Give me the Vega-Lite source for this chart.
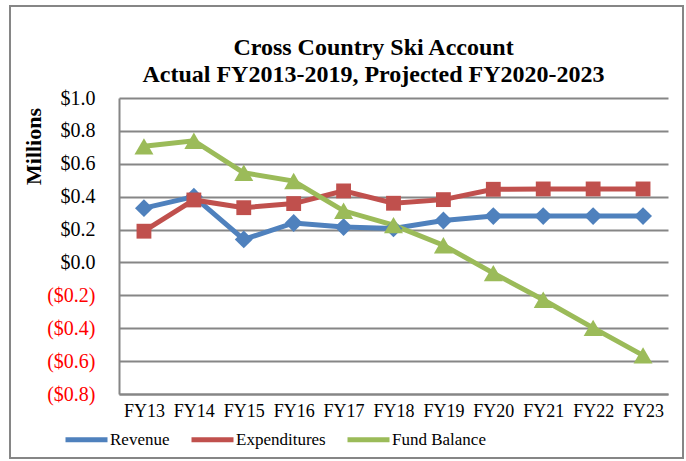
{
  "$schema": "https://vega.github.io/schema/vega-lite/v6.json",
  "width": 673,
  "height": 452,
  "autosize": {"type": "none"},
  "padding": {"left": 10, "top": 6, "right": 3, "bottom": 3},
  "background": "white",
  "title": {
    "text": ["Cross Country Ski Account", "Actual FY2013-2019, Projected FY2020-2023"],
    "font": "Liberation Serif",
    "fontSize": 24,
    "fontWeight": "bold",
    "color": "black",
    "anchor": "middle",
    "frame": "group",
    "baseline": "alphabetic",
    "lineHeight": 27,
    "offset": -48,
    "dx": 27,
    "dy": 52
  },
  "config": {
    "font": "Liberation Serif",
    "view": {"stroke": "#868686", "strokeWidth": 2},
    "legend": {
      "labelFont": "Liberation Serif",
      "labelFontSize": 17,
      "labelColor": "black",
      "symbolType": "stroke",
      "symbolSize": 1764,
      "symbolStrokeWidth": 5
    }
  },
  "data": {
    "values": [
      {"year": "FY13", "series": "Revenue", "value": 0.33},
      {"year": "FY14", "series": "Revenue", "value": 0.40},
      {"year": "FY15", "series": "Revenue", "value": 0.14},
      {"year": "FY16", "series": "Revenue", "value": 0.24},
      {"year": "FY17", "series": "Revenue", "value": 0.215},
      {"year": "FY18", "series": "Revenue", "value": 0.207},
      {"year": "FY19", "series": "Revenue", "value": 0.255},
      {"year": "FY20", "series": "Revenue", "value": 0.282},
      {"year": "FY21", "series": "Revenue", "value": 0.282},
      {"year": "FY22", "series": "Revenue", "value": 0.282},
      {"year": "FY23", "series": "Revenue", "value": 0.282},
      {"year": "FY13", "series": "Expenditures", "value": 0.19},
      {"year": "FY14", "series": "Expenditures", "value": 0.38},
      {"year": "FY15", "series": "Expenditures", "value": 0.333},
      {"year": "FY16", "series": "Expenditures", "value": 0.358},
      {"year": "FY17", "series": "Expenditures", "value": 0.435},
      {"year": "FY18", "series": "Expenditures", "value": 0.36},
      {"year": "FY19", "series": "Expenditures", "value": 0.382},
      {"year": "FY20", "series": "Expenditures", "value": 0.445},
      {"year": "FY21", "series": "Expenditures", "value": 0.447},
      {"year": "FY22", "series": "Expenditures", "value": 0.447},
      {"year": "FY23", "series": "Expenditures", "value": 0.447},
      {"year": "FY13", "series": "Fund Balance", "value": 0.706},
      {"year": "FY14", "series": "Fund Balance", "value": 0.74},
      {"year": "FY15", "series": "Fund Balance", "value": 0.545},
      {"year": "FY16", "series": "Fund Balance", "value": 0.495},
      {"year": "FY17", "series": "Fund Balance", "value": 0.314},
      {"year": "FY18", "series": "Fund Balance", "value": 0.227},
      {"year": "FY19", "series": "Fund Balance", "value": 0.105},
      {"year": "FY20", "series": "Fund Balance", "value": -0.065},
      {"year": "FY21", "series": "Fund Balance", "value": -0.227},
      {"year": "FY22", "series": "Fund Balance", "value": -0.398},
      {"year": "FY23", "series": "Fund Balance", "value": -0.565}
    ]
  },
  "encoding": {
    "x": {
      "field": "year",
      "type": "ordinal",
      "sort": ["FY13", "FY14", "FY15", "FY16", "FY17", "FY18", "FY19", "FY20", "FY21", "FY22", "FY23"],
      "scale": {"type": "point", "padding": 0.5, "range": [109, 658]},
      "axis": {
        "orient": "bottom",
        "offset": -64,
        "title": null,
        "labelAngle": 0,
        "labelFont": "Liberation Serif",
        "labelFontSize": 18,
        "labelColor": "black",
        "labelPadding": 8,
        "ticks": false,
        "grid": false,
        "domainColor": "#868686",
        "domainWidth": 2
      }
    },
    "y": {
      "field": "value",
      "type": "quantitative",
      "scale": {"domain": [-0.8, 1.0], "range": [388, 92], "nice": false, "zero": false},
      "axis": {
        "orient": "left",
        "offset": -109,
        "values": [-0.8, -0.6, -0.4, -0.2, 0, 0.2, 0.4, 0.6, 0.8, 1.0],
        "labelExpr": "datum.value < -0.001 ? '($' + format(abs(datum.value), '.1f') + ')' : '$' + format(abs(datum.value), '.1f')",
        "labelColor": {"condition": {"test": "datum.value < -0.001", "value": "#FF0000"}, "value": "#000000"},
        "labelFont": "Liberation Serif",
        "labelFontSize": 20,
        "labelPadding": 24,
        "ticks": false,
        "domainColor": "#868686",
        "domainWidth": 2,
        "grid": true,
        "gridColor": "#868686",
        "gridWidth": 2,
        "title": "Millions",
        "titleFont": "Liberation Serif",
        "titleFontSize": 22,
        "titleFontWeight": "bold",
        "titleColor": "black",
        "titleX": -86,
        "titleY": 140,
        "titleAngle": -90,
        "titleAlign": "center",
        "titleBaseline": "middle"
      }
    }
  },
  "layer": [
    {
      "mark": {"type": "line", "strokeWidth": 5},
      "encoding": {
        "color": {
          "field": "series",
          "type": "nominal",
          "scale": {"domain": ["Revenue", "Expenditures", "Fund Balance"], "range": ["#4F81BD", "#C0504D", "#9BBB59"]},
          "legend": {
            "title": null,
            "orient": "none",
            "legendX": 53,
            "legendY": 410,
            "direction": "horizontal",
            "symbolType": "stroke",
            "symbolSize": 1764,
            "symbolStrokeWidth": 5,
            "labelFont": "Liberation Serif",
            "labelFontSize": 17,
            "labelColor": "black",
            "labelOffset": 0,
            "columnPadding": 11,
            "padding": 0
          }
        }
      }
    },
    {
      "transform": [{"filter": "datum.series === 'Revenue'"}],
      "mark": {"type": "point", "shape": "diamond", "size": 320, "filled": true, "opacity": 1, "color": "#4F81BD"}
    },
    {
      "transform": [{"filter": "datum.series === 'Expenditures'"}],
      "mark": {"type": "point", "shape": "square", "size": 220, "filled": true, "opacity": 1, "color": "#C0504D"}
    },
    {
      "transform": [{"filter": "datum.series === 'Fund Balance'"}],
      "mark": {"type": "point", "shape": "triangle-up", "size": 360, "filled": true, "opacity": 1, "color": "#9BBB59"}
    }
  ]
}
